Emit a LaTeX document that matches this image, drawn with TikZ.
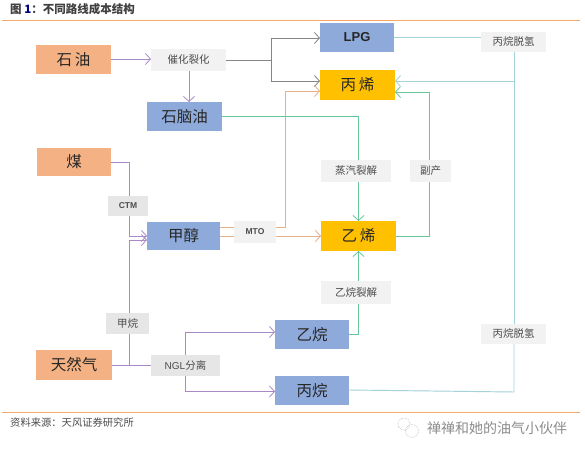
\documentclass[tikz,border=0pt]{standalone}
\usepackage{fontspec}
\setmainfont{Liberation Sans}
\newfontfamily\cjk{Noto Sans CJK SC}
\usetikzlibrary{arrows.meta}
\definecolor{cOrange}{HTML}{F4B183}
\definecolor{cBlue}{HTML}{8EAADB}
\definecolor{cGold}{HTML}{FFC000}
\definecolor{cGrayBox}{HTML}{F2F2F2}
\definecolor{cGrayBoxB}{HTML}{E7E6E6}
\definecolor{cPurple}{HTML}{A98AC6}
\definecolor{cGrayL}{HTML}{858585}
\definecolor{cTan}{HTML}{E6B088}
\definecolor{cGreen}{HTML}{68C69C}
\definecolor{cPale}{HTML}{A3D2D8}
\definecolor{cRule}{HTML}{F5A86B}
\tikzset{
  x=1pt,y=-1pt,
  box/.style={draw=none,inner sep=0pt,outer sep=0pt,anchor=north west,align=center,text=black!85},
  mainbox/.style={box,font=\cjk\fontsize{15.5}{15.5}\selectfont},
  srcbox/.style={mainbox,fill=cOrange},
  prodbox/.style={mainbox,fill=cBlue},
  goldbox/.style={mainbox,fill=cGold},
  procbox/.style={box,fill=cGrayBox,font=\cjk\fontsize{10.5}{11}\selectfont,text=black!70},
  procdark/.style={procbox,fill=cGrayBoxB},
  conn/.style={line width=0.95pt},
  arr/.style={conn,-{Straight Barb[length=5pt,width=11pt,line width=0.8pt]}},
  rulel/.style={draw=cRule,line width=1pt},
}
\newcommand{\bx}[7]{\node[#1,minimum width=#4 pt-#3 pt,minimum height=#6 pt-#5 pt] (#2) at (#3,#5) {#7};}
\begin{document}
\begin{tikzpicture}
\useasboundingbox (0,0) rectangle (585,454);
\fill[white] (0,0) rectangle (585,454);
\coordinate (r1a) at (2,21); \coordinate (r1b) at (580,21);
\coordinate (r2a) at (2,412); \coordinate (r2b) at (580,412);
\draw[rulel] (r1a) -- (r1b);
\draw[rulel] (r2a) -- (r2b);
\node[anchor=west,inner sep=0pt,font=\cjk\bfseries\fontsize{11.5}{12}\selectfont,text=black!75] (title) at (10,9) {图 {\color{blue!50!black}1}：不同路线成本结构};
\node[anchor=west,inner sep=0pt,font=\cjk\fontsize{10.3}{11}\selectfont,text=black!70] (source) at (10,423) {资料来源：天风证券研究所};
\node[anchor=west,inner sep=0pt,font=\cjk\fontsize{14}{14}\selectfont,text=black!45] (wm) at (427,428) {禅禅和她的油气小伙伴};
\node[draw=black!35,densely dotted,line width=0.5pt,circle,minimum size=12pt,inner sep=0pt] (wa) at (404,424) {};
\node[draw=black!35,densely dotted,line width=0.5pt,circle,minimum size=13pt,inner sep=0pt] (wb) at (412,431) {};
% boxes
\bx{srcbox}{oil}{36}{111}{45}{74}{石\,油}
\bx{procbox}{fcc}{151}{226}{49}{71}{催化裂化}
\bx{prodbox}{lpg}{320}{394}{23}{52}{\fontspec{Liberation Sans}\bfseries\fontsize{13}{13}\selectfont LPG}
\bx{goldbox}{pp}{320}{395}{70}{100}{丙\,烯}
\bx{prodbox}{nap}{147}{222}{102}{131}{石脑油}
\bx{srcbox}{coal}{37}{111}{148}{176}{煤}
\bx{procdark}{ctm}{108}{148}{196}{216}{\fontspec{Liberation Sans}\bfseries\fontsize{8.5}{9}\selectfont CTM}
\bx{prodbox}{meoh}{147}{220}{222}{250}{甲醇}
\bx{procbox}{mto}{234}{276}{221}{243}{\fontspec{Liberation Sans}\bfseries\fontsize{8.5}{9}\selectfont MTO}
\bx{goldbox}{et}{321}{396}{221}{251}{乙\,烯}
\bx{procbox}{steam}{321}{391}{160}{182}{蒸汽裂解}
\bx{procbox}{byp}{410}{451}{160}{182}{副产}
\bx{procbox}{pdha}{481}{546}{32}{52}{丙烷脱氢}
\bx{procbox}{pdhb}{481}{546}{324}{344}{丙烷脱氢}
\bx{procbox}{etc}{321}{391}{281}{304}{乙烷裂解}
\bx{procdark}{meth}{106}{149}{313}{334}{甲烷}
\bx{srcbox}{gas}{36}{112}{350}{380}{天然气}
\bx{procdark}{ngl}{151}{220}{355}{376}{\fontspec{Liberation Sans}\fontsize{10}{10}\selectfont NGL\cjk\fontsize{10.5}{11}\selectfont 分离}
\bx{prodbox}{c2}{275}{349}{320}{349}{乙烷}
\bx{prodbox}{c3}{275}{349}{376}{405}{丙烷}
% junction coordinates
\coordinate (jg) at (271,60);
\coordinate (jm) at (129,365);
\coordinate (jn) at (514,81);
% connectors
\draw[arr,draw=cPurple] (oil.east |- 0,59) -- (fcc.west |- 0,59);
\draw[arr,draw=cPurple] (189,71) -- (189,102);
\draw[conn,draw=cPurple] (coal.east) -- (129,162) -- (ctm.north -| 129,0);
\draw[arr,draw=cPurple] (ctm.south -| 129,0) -- (129,236) -- (meoh.west |- 0,236);
\draw[arr,draw=cPurple] (meth.north -| 129,0) -- (129,240) -- (meoh.west |- 0,240);
\draw[conn,draw=cPurple] (jm) -- (meth.south -| 129,0);
\draw[conn,draw=cPurple] (gas.east |- 0,365) -- (ngl.west |- 0,365);
\draw[arr,draw=cPurple] (ngl.north -| 185.5,0) -- (185.5,332) -- (c2.west |- 0,332);
\draw[arr,draw=cPurple] (ngl.south -| 185.5,0) -- (185.5,391.5) -- (c3.west |- 0,391.5);
\draw[conn,draw=cGrayL] (fcc.east |- 0,60) -- (jg);
\draw[arr,draw=cGrayL] (jg) -- (271,38) -- (lpg.west |- 0,38);
\draw[arr,draw=cGrayL] (jg) -- (271,81) -- (pp.west |- 0,81);
\draw[conn,draw=cTan] (meoh.east |- 0,227) -- (mto.west |- 0,227);
\draw[conn,draw=cTan] (meoh.east |- 0,236) -- (mto.west |- 0,236);
\draw[arr,draw=cTan] (mto.east |- 0,227) -- (285,227) -- (285,91) -- (pp.west |- 0,91);
\draw[arr,draw=cTan] (mto.east |- 0,236) -- (et.west |- 0,236);
\draw[conn,draw=cGreen] (nap.east |- 0,116) -- (358.5,116) -- (358.5,160);
\draw[arr,draw=cGreen] (358.5,182) -- (358.5,221);
\draw[conn,draw=cGreen] (c2.east |- 0,334) -- (358.5,334) -- (358.5,304);
\draw[arr,draw=cGreen] (358.5,281) -- (358.5,251);
\draw[conn,draw=cGreen] (et.east |- 0,236) -- (429,236) -- (429,182);
\draw[arr,draw=cGreen] (429,160) -- (429,92) -- (pp.east |- 0,92);
\draw[conn,draw=cPale] (lpg.east |- 0,37) -- (pdha.west |- 0,37);
\draw[conn,draw=cPale] (514,52) -- (514,324);
\draw[arr,draw=cPale] (jn) -- (pp.east |- 0,81);
\draw[conn,draw=cPale] (514,344) -- (514,392) -- (c3.east |- 0,390);
\end{tikzpicture}
\end{document}
